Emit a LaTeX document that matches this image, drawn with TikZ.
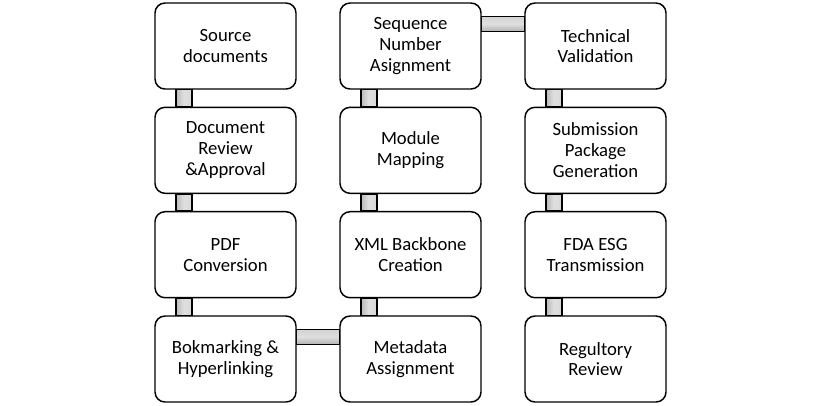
\documentclass[tikz,border=0pt]{standalone}
\usepackage{fontspec}
\setmainfont{Carlito}
\usetikzlibrary{calc,backgrounds}
\tikzset{
  stepbox/.style={draw=black, line width=1.1pt, rounded corners=7.5pt, fill=white,
    minimum width=105.75pt, minimum height=64.5pt, inner sep=0pt,
    align=center, font=\fontsize{14}{15.6}\selectfont},
  vbar/.style={draw=black, line width=1.1pt, left color=gray!55, right color=gray!30, middle color=gray!25},
  hbar/.style={draw=black, line width=1.1pt, top color=gray!35, bottom color=gray!60, middle color=gray!25}
}
\begin{document}
\begin{tikzpicture}[x=0.75pt,y=-0.75pt]
\useasboundingbox (0,0) rectangle (821,405);
\node[stepbox] (s1) at (225.5,46) {Source\\documents};
\node[stepbox] (s2) at (225.5,150.3) {Document\\Review\\\&Approval};
\node[stepbox] (s3) at (225.5,254.7) {PDF\\Conversion};
\node[stepbox] (s4) at (225.5,359) {Bokmarking \&\\Hyperlinking};
\node[stepbox] (m1) at (410.5,46) {Sequence\\Number\\Asignment};
\node[stepbox] (m2) at (410.5,150.3) {Module\\Mapping};
\node[stepbox] (m3) at (410.5,254.7) {XML Backbone\\Creation};
\node[stepbox] (m4) at (410.5,359) {Metadata\\Assignment};
\node[stepbox] (t1) at (595.5,46) {Technical\\Validation};
\node[stepbox] (t2) at (595.5,150.3) {Submission\\Package\\Generation};
\node[stepbox] (t3) at (595.5,254.7) {FDA ESG\\Transmission};
\node[stepbox] (t4) at (595.5,359) {Regultory\\Review};
\begin{scope}[on background layer]
\foreach \a/\b in {s1/s2,s2/s3,s3/s4,m1/m2,m2/m3,m3/m4,t1/t2,t2/t3,t3/t4}{
  \path[vbar] ($(\a.south west)+(21.5,0)$) rectangle ($(\b.north west)+(37.5,0)$);
}
\path[hbar] ($(s4.north east)+(0,14)$) rectangle ($(m4.north west)+(0,29)$);
\path[hbar] ($(m1.north east)+(0,14)$) rectangle ($(t1.north west)+(0,29)$);
\end{scope}
\end{tikzpicture}
\end{document}
